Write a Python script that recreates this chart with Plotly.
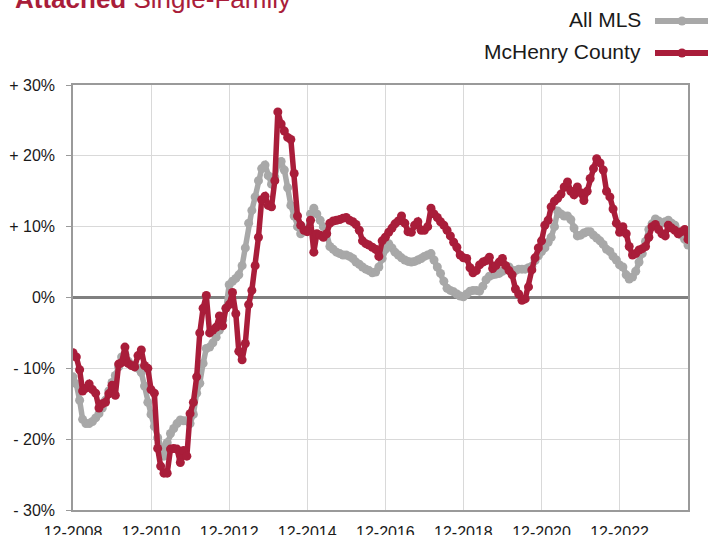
import pandas as pd
import plotly.graph_objects as go

# Monthly series, 12-2008 through 09-2024 (year-over-year % change)
all_mls = [
    -11.2, -12.2, -14.5, -17.2, -17.8, -17.8, -17.5, -17.0, -16.4, -15.6, -14.5, -13.2,
    -12.0, -11.0, -9.8, -8.4, -8.0, -9.0, -9.5, -9.8, -10.0, -10.6, -12.5, -14.8,
    -16.5, -18.2, -19.8, -21.2, -22.4, -20.5, -19.2, -18.5, -17.8, -17.3, -17.4, -17.4,
    -17.8, -16.5, -13.5, -12.1, -9.3, -7.2, -7.0, -6.4, -5.6, -4.6, -3.2, -1.5,
    1.8, 2.3, 2.7, 3.2, 4.5, 7.0, 10.5, 12.3, 14.2, 16.5, 18.2, 18.7,
    17.2, 16.0, 17.0, 18.8, 19.2, 18.0, 15.5, 13.0, 11.5, 10.0, 9.0, 9.3,
    9.5, 11.8, 12.6, 11.8, 10.9, 10.0, 9.0, 7.2, 6.8, 6.4, 6.2, 6.0,
    6.0, 5.8, 5.5, 5.0, 4.7, 4.3, 4.0, 3.8, 3.5, 3.6, 4.3, 5.5,
    6.8, 7.6, 7.0, 6.4, 6.0, 5.6, 5.3, 5.1, 5.0, 5.1, 5.3, 5.5,
    5.8, 6.0, 6.2, 5.3, 4.3, 3.4, 2.3, 1.3, 1.0, 0.8, 0.5, 0.2,
    0.1, 0.5, 0.9, 1.0, 1.0, 0.9, 1.6, 2.5, 3.0, 3.2, 3.3, 3.4,
    3.7, 4.0, 4.3, 3.8, 3.8, 4.0, 4.0, 4.0, 4.2, 4.4, 5.2, 5.9,
    6.5, 7.0, 7.8, 8.5, 10.0, 12.2, 11.8, 11.5, 11.5, 11.0, 9.8, 8.7,
    8.8, 9.1, 9.3, 9.3, 8.8, 8.4, 8.0, 7.5, 6.8, 6.5, 5.8, 5.3,
    4.6, 4.3, 3.2, 2.6, 2.9, 3.7, 5.0, 6.2, 7.9, 9.6, 10.4, 11.1,
    10.8, 10.5, 10.7, 10.9, 10.5, 10.2, 9.3, 8.8, 8.2, 7.4,
]

mchenry = [
    -7.8, -8.4, -10.2, -13.2, -12.8, -12.2, -13.0, -13.5, -15.6, -15.0, -14.8, -13.6,
    -12.4, -13.8, -9.4, -9.2, -7.0, -9.3, -9.6, -9.8, -8.2, -7.4, -9.6, -10.0,
    -13.0, -13.5, -21.3, -23.8, -24.8, -24.8, -21.4, -21.3, -21.4, -23.3, -21.6, -22.4,
    -16.4, -14.8, -11.2, -5.0, -1.5, 0.3, -5.0, -4.6, -4.2, -2.6, -4.0, -1.5,
    -1.0, 0.7, -2.3, -7.6, -8.8, -6.5, -1.0, 1.0, 4.5, 8.5, 13.8, 14.3,
    13.0, 12.8, 16.5, 26.2, 24.5, 23.5, 22.6, 22.3, 17.5, 11.5, 10.2, 9.5,
    9.3, 10.9, 6.4, 9.0, 8.8, 8.5, 9.0, 10.5, 10.8, 10.9, 11.0, 11.2,
    11.3, 10.9, 10.7, 10.3, 9.5, 8.0, 7.6, 7.4, 7.1, 6.8, 5.8, 8.0,
    8.5, 9.2, 9.8, 10.4, 10.8, 11.5, 10.5, 9.3, 9.2, 10.2, 10.7, 9.5,
    9.5, 10.0, 12.6, 11.8, 11.3, 10.7, 10.2, 9.5, 8.7, 7.8, 7.1, 6.0,
    5.6, 5.5, 4.2, 3.5, 3.8, 4.6, 5.0, 5.2, 5.7, 4.1, 4.5, 5.0,
    5.5, 4.5, 3.8, 3.2, 1.2, 0.5, -0.4, -0.2, 1.5, 3.9, 5.6, 7.0,
    8.0, 10.2, 10.9, 12.8, 13.6, 14.0, 14.6, 15.6, 16.3, 15.0, 14.5, 15.6,
    14.8, 13.7, 15.0, 16.8, 18.2, 19.6, 19.0, 18.0, 15.0, 14.2, 12.5, 10.5,
    9.2, 10.0, 9.0, 7.2, 6.0, 6.2, 6.7, 6.9, 7.2, 8.5, 10.0, 10.3,
    9.6, 9.0, 8.7, 10.2, 9.8, 9.5, 9.0, 9.3, 9.6, 8.2,
]

months = pd.date_range("2008-12-01", periods=len(mchenry), freq="MS")

tick_dates = ["2008-12-01", "2010-12-01", "2012-12-01", "2014-12-01",
              "2016-12-01", "2018-12-01", "2020-12-01", "2022-12-01"]
tick_labels = ["12-2008", "12-2010", "12-2012", "12-2014",
               "12-2016", "12-2018", "12-2020", "12-2022"]
y_ticks = [30, 20, 10, 0, -10, -20, -30]
y_labels = ["+ 30%", "+ 20%", "+ 10%", "0%", "- 10%", "- 20%", "- 30%"]

series_names = ["All MLS", "McHenry County"]
RED = "#A91D3A"
GREY = "#A8A8A8"
FONT = "Liberation Sans, Arial, Helvetica, sans-serif"

fig = go.Figure()
fig.add_trace(go.Scatter(
    x=months, y=all_mls, mode="lines+markers", name=series_names[0],
    line=dict(color=GREY, width=5.5), marker=dict(color=GREY, size=9),
    showlegend=False))
fig.add_trace(go.Scatter(
    x=months, y=mchenry, mode="lines+markers", name=series_names[1],
    line=dict(color=RED, width=5.5), marker=dict(color=RED, size=9),
    showlegend=False))

fig.update_layout(
    width=718, height=535,
    margin=dict(l=73, r=30, t=85, b=25, autoexpand=False),
    paper_bgcolor="white", plot_bgcolor="white",
    font=dict(family=FONT, size=16, color="#1a1a1a"),
    showlegend=False,
)
fig.update_xaxes(
    range=[months[0], months[-1]],
    tickmode="array", tickvals=tick_dates, ticktext=tick_labels,
    showgrid=True, gridcolor="#D9D9D9", gridwidth=1,
    showline=True, mirror=True, linecolor="#9A9A9A", linewidth=1.5,
    ticks="", ticklabelstandoff=7, zeroline=False, automargin=False,
    tickfont=dict(size=16, color="#1a1a1a"),
)
fig.update_yaxes(
    range=[-30, 30],
    tickmode="array", tickvals=y_ticks, ticktext=y_labels,
    showgrid=True, gridcolor="#D9D9D9", gridwidth=1,
    showline=True, mirror=True, linecolor="#9A9A9A", linewidth=1.5,
    ticks="outside", ticklen=5, tickcolor="#9A9A9A",
    ticklabelstandoff=8, automargin=False,
    zeroline=True, zerolinecolor="#808080", zerolinewidth=3,
    tickfont=dict(size=16, color="#1a1a1a"),
)

# Title (partially cropped at the top in the reference)
fig.add_annotation(
    xref="paper", yref="paper", x=-0.097, y=1.163, xanchor="left", yanchor="bottom",
    text="<b>Attached</b> Single-Family", showarrow=False,
    font=dict(family=FONT, size=26, color=RED))

# Custom legend: text right-aligned, sample line to the right
legend_rows = [(series_names[0], GREY, 21), (series_names[1], RED, 53)]
for name, color, ypix in legend_rows:
    yp = 1 + (85 - ypix) / 425
    fig.add_annotation(
        xref="paper", yref="paper", x=(643 - 73) / 615, y=yp + 2 / 425,
        xanchor="right", yanchor="middle", text=name, showarrow=False,
        font=dict(family=FONT, size=21, color="#1a1a1a"))
    fig.add_shape(type="line", xref="paper", yref="paper",
                  x0=(655 - 73) / 615, x1=(708 - 73) / 615, y0=yp, y1=yp,
                  line=dict(color=color, width=6))
    xc = (682 - 73) / 615
    fig.add_shape(type="circle", xref="paper", yref="paper",
                  x0=xc - 4.5 / 615, x1=xc + 4.5 / 615,
                  y0=yp - 4.5 / 425, y1=yp + 4.5 / 425,
                  fillcolor=color, line=dict(color=color, width=0))

fig.write_html("out.html", config={"displayModeBar": False},
               post_script="document.body.style.margin='0';")
